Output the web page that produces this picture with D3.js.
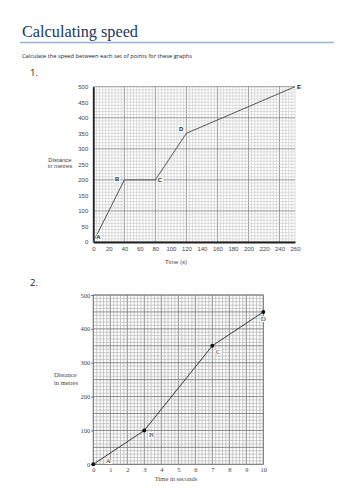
<!DOCTYPE html>
<html>
<head>
<meta charset="utf-8">
<script src="https://cdn.jsdelivr.net/npm/d3@7"></script>
<style>
  body { margin: 0; background: #fff; }
  svg { display: block; }
</style>
</head>
<body>
<div id="page"></div>
<script>
// Graph 1 : distance-time points (labelled)
const g1Labels = ["A", "B", "C", "D", "E"];
const g1Time = [0, 40, 80, 120, 260];
const g1Dist = [0, 200, 200, 350, 500];
const g1XTicks = [0, 20, 40, 60, 80, 100, 120, 140, 160, 180, 200, 220, 240, 260];
const g1YTicks = [0, 50, 100, 150, 200, 250, 300, 350, 400, 450, 500];

// Graph 2
const g2Labels = ["A", "B", "C", "D"];
const g2Time = [0, 3, 7, 10];
const g2Dist = [0, 100, 350, 450];
const g2XTicks = [0, 1, 2, 3, 4, 5, 6, 7, 8, 9, 10];
const g2YTicks = [0, 100, 200, 300, 400, 500];

const W = 354, H = 500;
const svg = d3.select("#page").append("svg").attr("width", W).attr("height", H);

// heading
svg.append("text").attr("x", 22).attr("y", 37)
  .attr("font-family", "'Liberation Serif', serif").attr("font-size", 17)
  .attr("textLength", 116).attr("lengthAdjust", "spacingAndGlyphs")
  .attr("fill", "#17365d").text("Calculating speed");
svg.append("line").attr("x1", 20).attr("x2", 334).attr("y1", 42.5).attr("y2", 42.5)
  .attr("stroke", "#95b3d7").attr("stroke-width", 1.5);
svg.append("text").attr("x", 22).attr("y", 58)
  .attr("font-family", "'Open Sans', sans-serif").attr("font-size", 6)
  .attr("textLength", 170).attr("lengthAdjust", "spacingAndGlyphs")
  .attr("fill", "#222").text("Calculate the speed between each set of points for these graphs");
svg.append("text").attr("x", 30).attr("y", 76)
  .attr("font-family", "'Open Sans', sans-serif").attr("font-size", 9.5)
  .attr("fill", "#222").text("1.");
svg.append("text").attr("x", 30).attr("y", 286)
  .attr("font-family", "'Open Sans', sans-serif").attr("font-size", 9.5)
  .attr("fill", "#222").text("2.");

// ---------- graph 1 ----------
const x1 = d3.scaleLinear().domain([0, 260]).range([93.3, 295]);
const y1 = d3.scaleLinear().domain([0, 500]).range([242, 86.7]);
const c1 = svg.append("g");

// grid
c1.append("g").selectAll("line").data(d3.range(0, 261, 4))
  .join("line")
  .attr("x1", d => x1(d)).attr("x2", d => x1(d))
  .attr("y1", y1(0)).attr("y2", y1(500))
  .attr("stroke", d => d % 40 === 0 ? "#8f8f8f" : "#c8c8c8")
  .attr("stroke-width", d => d % 40 === 0 ? 0.9 : 0.6);
c1.append("g").selectAll("line").data(d3.range(0, 501, 10))
  .join("line")
  .attr("y1", d => y1(d)).attr("y2", d => y1(d))
  .attr("x1", x1(0)).attr("x2", x1(260))
  .attr("stroke", d => d % 100 === 0 ? "#8f8f8f" : "#c8c8c8")
  .attr("stroke-width", d => d % 100 === 0 ? 0.9 : 0.6);

// axes
const ax1 = c1.append("g").attr("transform", "translate(0," + y1(0) + ")")
  .call(d3.axisBottom(x1).tickValues(g1XTicks).tickSize(0).tickPadding(5));
ax1.select(".domain").attr("stroke", "#222").attr("stroke-width", 1.8);
ax1.selectAll("text").attr("font-family", "'Liberation Sans', Arial, sans-serif")
  .attr("font-size", 6).attr("fill", "#444");
const ay1 = c1.append("g").attr("transform", "translate(" + x1(0) + ",0)")
  .call(d3.axisLeft(y1).tickValues(g1YTicks).tickSize(0).tickPadding(5));
ay1.select(".domain").attr("stroke", "#222").attr("stroke-width", 1.8);
ay1.selectAll("text").attr("font-family", "'Liberation Sans', Arial, sans-serif")
  .attr("font-size", 6).attr("fill", "#444");

c1.append("text").attr("x", 176).attr("y", 264).attr("text-anchor", "middle")
  .attr("font-family", "'Liberation Sans', Arial, sans-serif").attr("font-size", 6)
  .attr("fill", "#444").text("Time (s)");
c1.append("text").attr("x", 60).attr("y", 162).attr("text-anchor", "middle")
  .attr("font-family", "'Liberation Sans', Arial, sans-serif").attr("font-size", 6)
  .attr("fill", "#444").text("Distance");
c1.append("text").attr("x", 60).attr("y", 168).attr("text-anchor", "middle")
  .attr("font-family", "'Liberation Sans', Arial, sans-serif").attr("font-size", 6)
  .attr("fill", "#444").text("in metres");

const pts1 = g1Time.map((t, i) => ({t: t, d: g1Dist[i], l: g1Labels[i]}));
c1.append("path").datum(pts1)
  .attr("d", d3.line().x(d => x1(d.t)).y(d => y1(d.d)))
  .attr("fill", "none").attr("stroke", "#555").attr("stroke-width", 1);

const off1 = {A: [3, -3, "start"], B: [-5, 1.5, "end"], C: [2.5, 2, "start"], D: [-3, -2, "end"], E: [2, 2, "start"]};
c1.selectAll(".lab1").data(pts1).join("text")
  .attr("class", "lab1")
  .attr("x", d => x1(d.t) + off1[d.l][0])
  .attr("y", d => y1(d.d) + off1[d.l][1])
  .attr("text-anchor", d => off1[d.l][2])
  .attr("font-family", "'Liberation Sans', Arial, sans-serif").attr("font-weight", "bold")
  .attr("font-size", 6).attr("fill", "#222")
  .attr("stroke", "#fff").attr("stroke-width", 2).attr("paint-order", "stroke")
  .text(d => d.l);

// ---------- graph 2 ----------
const x2 = d3.scaleLinear().domain([0, 10]).range([93.3, 263.3]);
const y2 = d3.scaleLinear().domain([0, 500]).range([464.3, 295]);
const c2 = svg.append("g");

c2.append("g").selectAll("line").data(d3.range(0, 51))
  .join("line")
  .attr("x1", d => x2(d / 5)).attr("x2", d => x2(d / 5))
  .attr("y1", y2(0)).attr("y2", y2(500))
  .attr("stroke", d => d % 5 === 0 ? "#8a8a8a" : "#b5b5b5")
  .attr("stroke-width", d => d % 5 === 0 ? 1 : 0.7);
c2.append("g").selectAll("line").data(d3.range(0, 501, 10))
  .join("line")
  .attr("y1", d => y2(d)).attr("y2", d => y2(d))
  .attr("x1", x2(0)).attr("x2", x2(10))
  .attr("stroke", d => d % 50 === 0 ? "#8a8a8a" : "#b5b5b5")
  .attr("stroke-width", d => d % 50 === 0 ? 1 : 0.7);
c2.append("rect").attr("x", x2(0)).attr("y", y2(500))
  .attr("width", x2(10) - x2(0)).attr("height", y2(0) - y2(500))
  .attr("fill", "none").attr("stroke", "#777").attr("stroke-width", 0.8);

const ax2 = c2.append("g").attr("transform", "translate(0," + y2(0) + ")")
  .call(d3.axisBottom(x2).tickValues(g2XTicks).tickSize(0).tickPadding(3));
ax2.select(".domain").remove();
ax2.selectAll("text").attr("font-family", "'Liberation Serif', 'Times New Roman', serif")
  .attr("font-size", 6.5).attr("fill", "#444");
const ay2 = c2.append("g").attr("transform", "translate(" + x2(0) + ",0)")
  .call(d3.axisLeft(y2).tickValues(g2YTicks).tickSize(2).tickPadding(1));
ay2.select(".domain").remove();
ay2.selectAll("line").attr("stroke", "#666");
ay2.selectAll("text").attr("font-family", "'Liberation Serif', 'Times New Roman', serif")
  .attr("font-size", 6.5).attr("fill", "#444");

c2.append("text").attr("x", 176).attr("y", 481).attr("text-anchor", "middle")
  .attr("font-family", "'Liberation Serif', 'Times New Roman', serif").attr("font-size", 6.5)
  .attr("fill", "#444").text("Time in seconds");
c2.append("text").attr("x", 54).attr("y", 377)
  .attr("font-family", "'Liberation Serif', 'Times New Roman', serif").attr("font-size", 6.5)
  .attr("fill", "#444").text("Distance");
c2.append("text").attr("x", 54).attr("y", 385)
  .attr("font-family", "'Liberation Serif', 'Times New Roman', serif").attr("font-size", 6.5)
  .attr("fill", "#444").text("in metres");

const pts2 = g2Time.map((t, i) => ({t: t, d: g2Dist[i], l: g2Labels[i]}));
c2.append("path").datum(pts2)
  .attr("d", d3.line().x(d => x2(d.t)).y(d => y2(d.d)))
  .attr("fill", "none").attr("stroke", "#222").attr("stroke-width", 0.9);
c2.selectAll(".dot2").data(pts2).join("circle")
  .attr("class", "dot2")
  .attr("cx", d => x2(d.t)).attr("cy", d => y2(d.d)).attr("r", 2)
  .attr("fill", "#111");

const off2 = {A: [15, -1], B: [7, 7], C: [6, 8], D: [0, 9]};
c2.selectAll(".lab2").data(pts2).join("text")
  .attr("class", "lab2")
  .attr("x", d => x2(d.t) + off2[d.l][0])
  .attr("y", d => y2(d.d) + off2[d.l][1])
  .attr("text-anchor", "middle")
  .attr("font-family", "'Liberation Serif', 'Times New Roman', serif")
  .attr("font-size", 7).attr("fill", "#333")
  .attr("stroke", "#fff").attr("stroke-width", 2).attr("paint-order", "stroke")
  .text(d => d.l);
</script>
</body>
</html>
